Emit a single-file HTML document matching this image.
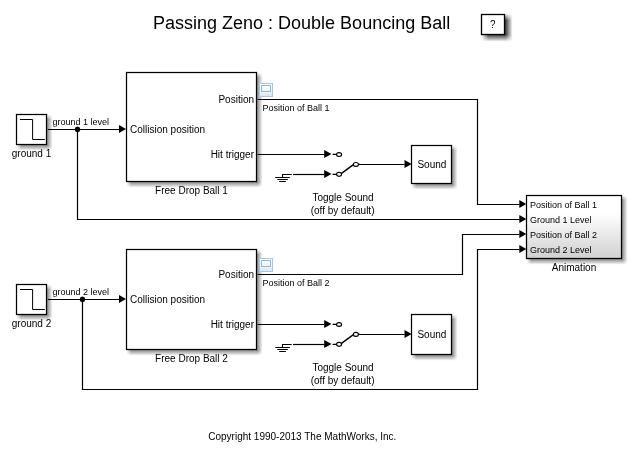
<!DOCTYPE html>
<html><head><meta charset="utf-8">
<style>
html,body{margin:0;padding:0;background:#fff;width:632px;height:455px;overflow:hidden}
svg{display:block;will-change:transform}
text{font-family:"Liberation Sans",sans-serif;fill:#000}
</style></head><body>
<svg width="632" height="455" viewBox="0 0 632 455">
<defs>
<filter id="sh" x="-20%" y="-20%" width="140%" height="140%">
<feOffset in="SourceAlpha" dx="3" dy="3"/>
<feConvolveMatrix order="5" kernelMatrix="1 1 1 1 1 1 1 1 1 1 1 1 1 1 1 1 1 1 1 1 1 1 1 1 1" divisor="59.524" edgeMode="none"/>
<feMerge><feMergeNode/><feMergeNode in="SourceGraphic"/></feMerge>
</filter>
<filter id="sh2" x="-50%" y="-50%" width="200%" height="200%">
<feOffset in="SourceAlpha" dx="4" dy="3"/>
<feConvolveMatrix order="7" kernelMatrix="1 1 1 1 1 1 1 1 1 1 1 1 1 1 1 1 1 1 1 1 1 1 1 1 1 1 1 1 1 1 1 1 1 1 1 1 1 1 1 1 1 1 1 1 1 1 1 1 1" divisor="65.333" edgeMode="none"/>
<feMerge><feMergeNode/><feMergeNode in="SourceGraphic"/></feMerge>
</filter>
<linearGradient id="ag" x1="0" y1="0" x2="0" y2="1">
<stop offset="0" stop-color="#ffffff"/>
<stop offset="0.28" stop-color="#ffffff"/>
<stop offset="1" stop-color="#d0d0d0"/>
</linearGradient>
<linearGradient id="ig" x1="0" y1="0" x2="0" y2="1">
<stop offset="0" stop-color="#ffffff"/>
<stop offset="0.45" stop-color="#f4f8fc"/>
<stop offset="1" stop-color="#d9e6f3"/>
</linearGradient>
<linearGradient id="ig2" x1="0" y1="0" x2="0" y2="1">
<stop offset="0" stop-color="#ffffff"/>
<stop offset="1" stop-color="#f2efec"/>
</linearGradient>
</defs>

<!-- title -->
<text x="301.6" y="29" font-size="18" text-anchor="middle" style="fill:#000">Passing Zeno : Double Bouncing Ball</text>

<!-- ? button -->
<rect x="481.5" y="14.5" width="23" height="20" fill="#fff" stroke="#000" stroke-width="1.3" filter="url(#sh2)"/>
<text transform="translate(492.8 27.7) scale(0.9 1)" x="0" y="0" font-size="11" text-anchor="middle">?</text>

<!-- blocks -->
<g fill="#fff" stroke="#000" stroke-width="1.25" filter="url(#sh)">
<rect x="16.5" y="114.5" width="30" height="30"/>
<rect x="16.5" y="284.5" width="30" height="30"/>
<rect x="126.5" y="72.5" width="130" height="109"/>
<rect x="126.5" y="249.5" width="130" height="100"/>
<rect x="411.5" y="145.5" width="40" height="38"/>
<rect x="411.5" y="314.5" width="40" height="40"/>
<rect x="526.5" y="195.5" width="95" height="63" fill="url(#ag)"/>
</g>

<!-- step icons -->
<g fill="none" stroke="#000" stroke-width="1">
<path d="M19.9 119.5 H32.6 V139.5 H44.9"/>
<path d="M19.9 289.5 H32.6 V309.5 H44.9"/>
</g>

<!-- signal lines -->
<g fill="none" stroke="#000" stroke-width="1.2">
<path d="M47.8 129.5 H119"/>
<path d="M77.5 129.5 V219.5 H519.5"/>
<path d="M257.8 99.5 H477.5 V204.5 H519.5"/>
<path d="M257.8 154.5 H324.5"/>
<path d="M293 174.5 H324.5"/>
<path d="M359 164.5 H404.5"/>
<path d="M47.8 299.5 H119"/>
<path d="M82.5 299.5 V389.5 H477.5 V249.5 H519.5"/>
<path d="M257.8 274.5 H462.5 V234.5 H519.5"/>
<path d="M257.8 324.5 H324.5"/>
<path d="M293 344.5 H324.5"/>
<path d="M359 334.5 H404.5"/>
</g>

<!-- arrowheads -->
<g fill="#000">
<path d="M119.0 125.1 L126.0 129.1 L119.0 133.1Z"/>
<path d="M119.0 295.1 L126.0 299.1 L119.0 303.1Z"/>
<path d="M519.3 200.1 L526.3 204.1 L519.3 208.1Z"/>
<path d="M519.3 215.1 L526.3 219.1 L519.3 223.1Z"/>
<path d="M519.3 230.1 L526.3 234.1 L519.3 238.1Z"/>
<path d="M519.3 245.1 L526.3 249.1 L519.3 253.1Z"/>
<path d="M324.2 150.1 L331.5 154.1 L324.2 158.1Z"/>
<path d="M324.2 170.1 L331.5 174.1 L324.2 178.1Z"/>
<path d="M404.5 160.1 L411.7 164.1 L404.5 168.1Z"/>
<path d="M324.2 320.1 L331.5 324.1 L324.2 328.1Z"/>
<path d="M324.2 340.1 L331.5 344.1 L324.2 348.1Z"/>
<path d="M404.5 330.1 L411.7 334.1 L404.5 338.1Z"/>
<path d="M80.40 129.40 L79.55 131.45 L77.50 132.30 L75.45 131.45 L74.60 129.40 L75.45 127.35 L77.50 126.50 L79.55 127.35Z"/>
<path d="M85.40 299.40 L84.55 301.45 L82.50 302.30 L80.45 301.45 L79.60 299.40 L80.45 297.35 L82.50 296.50 L84.55 297.35Z"/>
</g>

<!-- switches -->
<g fill="none" stroke="#000" stroke-width="1.15">
<path d="M332.6 154.4 H336.5 M332.6 174.4 H336.5 M358.5 164.4 H360"/>
<path d="M341.2 173.6 L353.4 164.6 " stroke-width="1.35"/>
<ellipse cx="339.05" cy="154.5" rx="2.5" ry="1.95" fill="#fff"/>
<ellipse cx="339.05" cy="174.35" rx="2.5" ry="1.95" fill="#fff"/>
<ellipse cx="355.9" cy="164.4" rx="2.5" ry="1.95" fill="#fff"/>
<path d="M282.5 177.5 V174.5 H291.7 M275.2 177.5 H289.8 M277.3 179.5 H287.9 M279.2 181.5 H285.9"/>
<path d="M332.6 324.4 H336.5 M332.6 344.4 H336.5 M358.5 334.4 H360"/>
<path d="M341.2 343.6 L353.4 334.6 " stroke-width="1.35"/>
<ellipse cx="339.05" cy="324.5" rx="2.5" ry="1.95" fill="#fff"/>
<ellipse cx="339.05" cy="344.35" rx="2.5" ry="1.95" fill="#fff"/>
<ellipse cx="355.9" cy="334.4" rx="2.5" ry="1.95" fill="#fff"/>
<path d="M282.5 347.5 V344.5 H291.7 M275.2 347.5 H289.8 M277.3 349.5 H287.9 M279.2 351.5 H285.9"/>
</g>

<!-- viewer icons -->
<g>
<rect x="259.5" y="83.5" width="13" height="13" fill="url(#ig)" stroke="#abc6e2" stroke-width="1"/>
<rect x="261.5" y="85.5" width="9" height="6" fill="url(#ig2)" stroke="#8cb9e3" stroke-width="1"/>
<rect x="259.5" y="258.5" width="13" height="13" fill="url(#ig)" stroke="#abc6e2" stroke-width="1"/>
<rect x="261.5" y="260.5" width="9" height="6" fill="url(#ig2)" stroke="#8cb9e3" stroke-width="1"/>
</g>

<!-- labels -->
<g font-size="10">
<text x="31.5" y="157" text-anchor="middle">ground 1</text>
<text x="31.5" y="327" text-anchor="middle">ground 2</text>
<text x="130" y="132.8">Collision position</text>
<text x="254" y="102.8" text-anchor="end">Position</text>
<text x="254" y="157.8" text-anchor="end">Hit trigger</text>
<text x="191.5" y="193.8" text-anchor="middle">Free Drop Ball 1</text>
<text x="130" y="302.8">Collision position</text>
<text x="254" y="277.8" text-anchor="end">Position</text>
<text x="254" y="327.8" text-anchor="end">Hit trigger</text>
<text x="191.5" y="361.8" text-anchor="middle">Free Drop Ball 2</text>
<text x="431.9" y="167.6" text-anchor="middle">Sound</text>
<text x="431.9" y="337.6" text-anchor="middle">Sound</text>
<text x="343" y="200.5" text-anchor="middle">Toggle Sound</text>
<text x="342.6" y="214" text-anchor="middle">(off by default)</text>
<text x="343" y="370.5" text-anchor="middle">Toggle Sound</text>
<text x="342.6" y="384" text-anchor="middle">(off by default)</text>
<text x="574" y="270.5" text-anchor="middle">Animation</text>
<text x="302.3" y="440" text-anchor="middle">Copyright 1990-2013 The MathWorks, Inc.</text>
</g>
<g font-size="9">
<text x="52.5" y="125">ground 1 level</text>
<text x="52.5" y="295">ground 2 level</text>
<text x="262.5" y="111">Position of Ball 1</text>
<text x="262.5" y="285.8">Position of Ball 2</text>
<text x="530" y="207.7">Position of Ball 1</text>
<text x="530" y="222.8">Ground 1 Level</text>
<text x="530" y="237.8">Position of Ball 2</text>
<text x="530" y="252.8">Ground 2 Level</text>
</g>
</svg>
</body></html>
